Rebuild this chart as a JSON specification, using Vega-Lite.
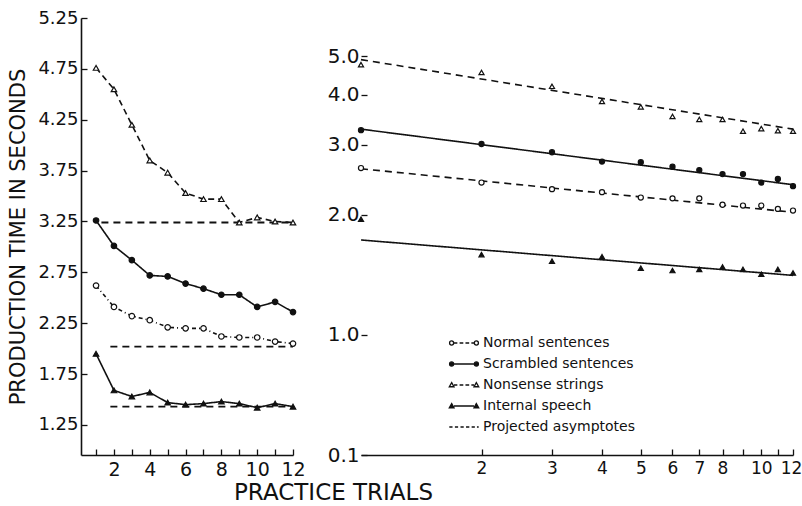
{
  "$schema": "https://vega.github.io/schema/vega-lite/v6.json",
  "background": "white",
  "padding": {"top": 9, "left": 7, "right": 5, "bottom": 5},
  "config": {
    "view": {"stroke": null},
    "font": "DejaVu Sans",
    "axis": {"domainColor": "#111", "domainWidth": 1.6, "tickColor": "#111", "tickWidth": 1.3, "labelColor": "#111", "titleColor": "#111", "grid": false, "labelFont": "DejaVu Sans", "titleFont": "DejaVu Sans", "titleFontWeight": "normal", "labelOverlap": false, "labelFlush": false, "labelBound": false}
  },
  "datasets": {
    "trials": [
      {"series": "Normal sentences", "trial": 1, "time": 2.62},
      {"series": "Normal sentences", "trial": 2, "time": 2.41},
      {"series": "Normal sentences", "trial": 3, "time": 2.32},
      {"series": "Normal sentences", "trial": 4, "time": 2.28},
      {"series": "Normal sentences", "trial": 5, "time": 2.21},
      {"series": "Normal sentences", "trial": 6, "time": 2.2},
      {"series": "Normal sentences", "trial": 7, "time": 2.2},
      {"series": "Normal sentences", "trial": 8, "time": 2.12},
      {"series": "Normal sentences", "trial": 9, "time": 2.11},
      {"series": "Normal sentences", "trial": 10, "time": 2.11},
      {"series": "Normal sentences", "trial": 11, "time": 2.07},
      {"series": "Normal sentences", "trial": 12, "time": 2.05},
      {"series": "Scrambled sentences", "trial": 1, "time": 3.26},
      {"series": "Scrambled sentences", "trial": 2, "time": 3.01},
      {"series": "Scrambled sentences", "trial": 3, "time": 2.87},
      {"series": "Scrambled sentences", "trial": 4, "time": 2.72},
      {"series": "Scrambled sentences", "trial": 5, "time": 2.71},
      {"series": "Scrambled sentences", "trial": 6, "time": 2.64},
      {"series": "Scrambled sentences", "trial": 7, "time": 2.59},
      {"series": "Scrambled sentences", "trial": 8, "time": 2.53},
      {"series": "Scrambled sentences", "trial": 9, "time": 2.53},
      {"series": "Scrambled sentences", "trial": 10, "time": 2.41},
      {"series": "Scrambled sentences", "trial": 11, "time": 2.46},
      {"series": "Scrambled sentences", "trial": 12, "time": 2.36},
      {"series": "Nonsense strings", "trial": 1, "time": 4.76},
      {"series": "Nonsense strings", "trial": 2, "time": 4.55},
      {"series": "Nonsense strings", "trial": 3, "time": 4.2},
      {"series": "Nonsense strings", "trial": 4, "time": 3.85},
      {"series": "Nonsense strings", "trial": 5, "time": 3.73},
      {"series": "Nonsense strings", "trial": 6, "time": 3.53},
      {"series": "Nonsense strings", "trial": 7, "time": 3.47},
      {"series": "Nonsense strings", "trial": 8, "time": 3.47},
      {"series": "Nonsense strings", "trial": 9, "time": 3.24},
      {"series": "Nonsense strings", "trial": 10, "time": 3.29},
      {"series": "Nonsense strings", "trial": 11, "time": 3.25},
      {"series": "Nonsense strings", "trial": 12, "time": 3.24},
      {"series": "Internal speech", "trial": 1, "time": 1.95},
      {"series": "Internal speech", "trial": 2, "time": 1.59},
      {"series": "Internal speech", "trial": 3, "time": 1.53},
      {"series": "Internal speech", "trial": 4, "time": 1.57},
      {"series": "Internal speech", "trial": 5, "time": 1.47},
      {"series": "Internal speech", "trial": 6, "time": 1.45},
      {"series": "Internal speech", "trial": 7, "time": 1.46},
      {"series": "Internal speech", "trial": 8, "time": 1.48},
      {"series": "Internal speech", "trial": 9, "time": 1.46},
      {"series": "Internal speech", "trial": 10, "time": 1.42},
      {"series": "Internal speech", "trial": 11, "time": 1.46},
      {"series": "Internal speech", "trial": 12, "time": 1.43}
    ],
    "asymptotes": [
      {"series": "Nonsense strings", "trial": 1.3, "trial_end": 12, "time": 3.24},
      {"series": "Normal sentences", "trial": 1.8, "trial_end": 12, "time": 2.02},
      {"series": "Internal speech", "trial": 1.8, "trial_end": 12, "time": 1.43}
    ],
    "fits": [
      {"series": "Nonsense strings", "trial": 1, "time": 4.9},
      {"series": "Nonsense strings", "trial": 12, "time": 3.28},
      {"series": "Scrambled sentences", "trial": 1, "time": 3.28},
      {"series": "Scrambled sentences", "trial": 12, "time": 2.38},
      {"series": "Normal sentences", "trial": 1, "time": 2.61},
      {"series": "Normal sentences", "trial": 12, "time": 2.03},
      {"series": "Internal speech", "trial": 1, "time": 1.73},
      {"series": "Internal speech", "trial": 12, "time": 1.41}
    ]
  },
  "bounds": "flush",
  "spacing": 68,
  "resolve": {"scale": {"strokeDash": "independent", "shape": "independent", "fill": "independent"}, "legend": {"strokeDash": "independent", "shape": "independent", "fill": "independent"}},
  "hconcat": [
    {
      "width": 212,
      "height": 437,
      "encoding": {
        "x": {"field": "trial", "type": "quantitative",
          "scale": {"domain": [0.16, 12], "nice": false, "zero": false},
          "axis": {"values": [1,2,3,4,5,6,7,8,9,10,11,12], "labelExpr": "datum.value % 2 == 0 ? datum.label : ''", "tickSize": -6, "labelPadding": 11, "labelFontSize": 19, "title": "PRACTICE TRIALS", "titleFontSize": 23, "titleX": 252, "titleY": 37, "titleBaseline": "middle", "titleAlign": "center"}},
        "y": {"field": "time", "type": "quantitative",
          "scale": {"domain": [0.955, 5.25], "nice": false, "zero": false},
          "axis": {"values": [1.25,1.75,2.25,2.75,3.25,3.75,4.25,4.75,5.25], "format": ".2f", "tickSize": -6, "labelPadding": 9, "labelFontSize": 18, "title": "PRODUCTION TIME IN SECONDS", "titleFontSize": 21, "titlePadding": 9}}
      },
      "layer": [
        {"data": {"name": "asymptotes"},
         "mark": {"type": "rule", "strokeDash": [7, 5], "strokeWidth": 1.8, "color": "#111"},
         "encoding": {"x2": {"field": "trial_end"}}},
        {"data": {"name": "trials"},
         "mark": {"type": "line", "color": "#111", "strokeWidth": 1.6},
         "encoding": {
           "detail": {"field": "series", "type": "nominal"},
           "strokeDash": {"field": "series", "type": "nominal", "legend": null,
             "scale": {"domain": ["Normal sentences", "Scrambled sentences", "Nonsense strings", "Internal speech"], "range": [[4,3,1,3],[1,0],[6,4],[1,0]]}}}},
        {"data": {"name": "trials"},
         "mark": {"type": "point", "filled": true, "stroke": "#111", "strokeWidth": 1.2, "size": 30, "opacity": 1},
         "encoding": {
           "shape": {"field": "series", "type": "nominal", "legend": null,
             "scale": {"domain": ["Normal sentences", "Scrambled sentences", "Nonsense strings", "Internal speech"], "range": ["circle", "circle", "triangle-up", "triangle-up"]}},
           "fill": {"field": "series", "type": "nominal", "legend": null,
             "scale": {"domain": ["Normal sentences", "Scrambled sentences", "Nonsense strings", "Internal speech"], "range": ["white", "#111", "white", "#111"]}}}}
      ]
    },
    {
      "width": 432,
      "height": 437,
      "encoding": {
        "x": {"field": "trial", "type": "quantitative",
          "scale": {"type": "log", "domain": [1, 12], "nice": false},
          "axis": {"values": [2,3,4,5,6,7,8,9,10,11,12], "labelExpr": "datum.value == 9 || datum.value == 11 ? '' : datum.label", "labelOffset": {"condition": {"test": "datum.value == 12", "value": -2}, "value": 0}, "tickSize": -6, "labelPadding": 11, "labelFontSize": 17, "title": null}},
        "y": {"field": "time", "type": "quantitative",
          "scale": {"type": "log", "domain": [0.5, 6.23], "nice": false},
          "axis": {"values": [0.5, 1, 2, 3, 4, 5], "labelExpr": "datum.value < 0.9 ? '0.1' : format(datum.value, '.1f')", "tickSize": -6, "labelPadding": 8, "labelFontSize": 20, "title": null, "domain": false}}
      },
      "resolve": {"scale": {"shape": "independent", "fill": "independent"}, "legend": {"shape": "independent", "fill": "independent"}},
      "layer": [
        {"data": {"values": [{}]},
         "mark": {"type": "rule", "color": "#111", "strokeWidth": 1.6},
         "encoding": {"x": {"datum": 1}, "y": {"datum": 0.5}, "y2": {"datum": 5.05}}},
        {"data": {"name": "fits"},
         "mark": {"type": "line", "color": "#111", "strokeWidth": 1.6},
         "encoding": {
           "detail": {"field": "series", "type": "nominal"},
           "strokeDash": {"field": "series", "type": "nominal", "legend": null,
             "scale": {"domain": ["Normal sentences", "Scrambled sentences", "Nonsense strings", "Internal speech"], "range": [[7,5],[1,0],[7,5],[1,0]]}}}},
        {"data": {"name": "trials"},
         "mark": {"type": "point", "filled": true, "stroke": "#111", "strokeWidth": 1.2, "size": 26, "opacity": 1},
         "encoding": {
           "shape": {"field": "series", "type": "nominal", "legend": null,
             "scale": {"domain": ["Normal sentences", "Scrambled sentences", "Nonsense strings", "Internal speech"], "range": ["circle", "circle", "triangle-up", "triangle-up"]}},
           "fill": {"field": "series", "type": "nominal", "legend": null,
             "scale": {"domain": ["Normal sentences", "Scrambled sentences", "Nonsense strings", "Internal speech"], "range": ["white", "#111", "white", "#111"]}}}},
        {"data": {"name": "trials"},
         "mark": {"type": "point", "filled": true, "opacity": 0, "size": 196, "stroke": "#111", "strokeWidth": 1.3},
         "encoding": {
           "shape": {"field": "series", "type": "nominal",
             "scale": {"domain": ["Normal sentences", "Scrambled sentences", "Nonsense strings", "Internal speech", "Projected asymptotes"],
               "range": [
                 "M-2.06,0a0.29,0.29 0 1,0 0.58,0a0.29,0.29 0 1,0 -0.58,0M-1.48,0H-0.95M-0.63,0H-0.1M0.21,0H0.74M1.05,0H1.48M1.48,0a0.29,0.29 0 1,0 0.58,0a0.29,0.29 0 1,0 -0.58,0",
                 "M-2.06,0a0.29,0.29 0 1,0 0.58,0a0.29,0.29 0 1,0 -0.58,0M-1.48,0H1.48M1.48,0a0.29,0.29 0 1,0 0.58,0a0.29,0.29 0 1,0 -0.58,0",
                 "M-1.76,-0.34L-1.43,0.25L-2.1,0.25ZM-1.43,0H-0.95M-0.63,0H-0.1M0.21,0H0.74M1.05,0H1.43M1.76,-0.34L2.1,0.25L1.43,0.25Z",
                 "M-1.76,-0.34L-1.43,0.25L-2.1,0.25ZM-1.43,0H1.43M1.76,-0.34L2.1,0.25L1.43,0.25Z",
                 "M-2.1,0H-1.64M-1.3,0H-0.84M-0.5,0H-0.04M0.29,0H0.76M1.09,0H1.55M1.85,0H2.1"
               ]},
             "legend": {"title": null, "orient": "none", "legendX": 95, "legendY": 317, "symbolSize": 196, "symbolOpacity": 1, "symbolStrokeColor": "#111", "symbolStrokeWidth": 1.3, "labelFontSize": 14, "labelFont": "DejaVu Sans", "labelColor": "#111", "labelOffset": 11, "rowPadding": 6, "labelLimit": 300, "padding": 0,
               "encode": {"symbols": {"update": {"stroke": {"value": "#111"}, "strokeWidth": {"value": 1.3}, "opacity": {"value": 1}, "strokeOpacity": {"value": 1}, "fillOpacity": {"value": 1}}}}}},
           "fill": {"field": "series", "type": "nominal",
             "scale": {"domain": ["Normal sentences", "Scrambled sentences", "Nonsense strings", "Internal speech", "Projected asymptotes"], "range": ["white", "#111", "white", "#111", "white"]},
             "legend": {"title": null, "orient": "none", "legendX": 95, "legendY": 317, "symbolSize": 196, "symbolOpacity": 1, "symbolStrokeColor": "#111", "symbolStrokeWidth": 1.3, "labelFontSize": 14, "labelFont": "DejaVu Sans", "labelColor": "#111", "labelOffset": 11, "rowPadding": 6, "labelLimit": 300, "padding": 0,
               "encode": {"symbols": {"update": {"stroke": {"value": "#111"}, "strokeWidth": {"value": 1.3}, "opacity": {"value": 1}, "strokeOpacity": {"value": 1}, "fillOpacity": {"value": 1}}}}}}
         }}
      ]
    }
  ]
}
